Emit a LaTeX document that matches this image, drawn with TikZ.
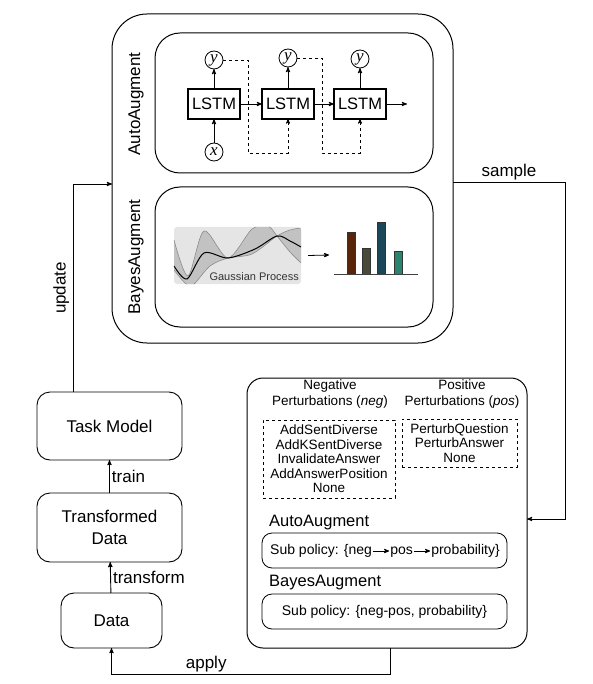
\documentclass[tikz,border=0pt]{standalone}
\usepackage{fontspec}
\setmainfont{Liberation Sans}
\newfontfamily\varfont{Liberation Serif}
\usepackage{tikz}
\usetikzlibrary{arrows,shapes,positioning}

\definecolor{barone}{RGB}{88,36,10}
\definecolor{bartwo}{RGB}{74,74,60}
\definecolor{barthree}{RGB}{26,72,88}
\definecolor{barfour}{RGB}{42,132,112}

\begin{document}
\begin{tikzpicture}[x=1pt,y=-1pt,node distance=16pt,>=stealth',auto]
    \tikzstyle{panel}=[draw,rounded corners=25pt,line width=1pt,outer sep=0pt]
    \tikzstyle{roundbox}=[draw,rounded corners=13pt,line width=0.9pt,outer sep=0pt,align=center,font=\fontsize{17}{22.5}\selectfont]
    \tikzstyle{lstm}=[draw,line width=1.1pt,outer sep=0pt,minimum width=52pt,minimum height=30pt,font=\fontsize{16.5}{18}\selectfont]
    \tikzstyle{var}=[circle,draw,line width=0.8pt,outer sep=0pt,minimum size=18pt,inner sep=0pt,font=\varfont\itshape\fontsize{17}{17}\selectfont]
    \tikzstyle{lbl}=[font=\fontsize{17}{20}\selectfont]
    \tikzstyle{perturb}=[draw,dashed,line width=0.7pt,align=center,inner sep=0pt,font=\fontsize{13.5}{14.5}\selectfont]
    \tikzstyle{subpol}=[draw,rounded corners=10pt,line width=0.8pt,outer sep=0pt,minimum width=245pt,minimum height=35pt]
    \tikzstyle{subtxt}=[inner sep=1pt,text height=10pt,text depth=3pt,font=\fontsize{14}{16}\selectfont]
    \useasboundingbox (0,0) rectangle (592,684);

    % search space
    \node[panel,rounded corners=35pt,minimum width=341pt,minimum height=329pt] (search) at (282.5,178.5) {};
    \node[panel,minimum width=278pt,minimum height=140pt] (autobox) at (294,103) {};
    \node[panel,minimum width=278pt,minimum height=140pt] (bayesbox) at (294,257) {};
    \node[lbl,rotate=90] (autoname) at (136,104) {AutoAugment};
    \node[lbl,rotate=90] (bayesname) at (136,257) {BayesAugment};

    % controller
    \node[lstm] (lstm1) at (214,104) {LSTM};
    \node[lstm] (lstm2) at (288,104) {LSTM};
    \node[lstm] (lstm3) at (360,104) {LSTM};
    \node[var] (y1) at (214,60) {y};
    \node[var] (y2) at (288,58) {y};
    \node[var] (y3) at (360,59) {y};
    \node[var] (x1) at (214,152) {x};
    \coordinate (out) at (407,104);
    \coordinate (d1) at (248,153);
    \coordinate (d2) at (322,153);
    \draw[->,line width=0.9pt] (x1) -- (lstm1);
    \draw[->,line width=0.9pt] (lstm1) -- (y1);
    \draw[->,line width=0.9pt] (lstm2) -- (y2);
    \draw[->,line width=0.9pt] (lstm3) -- (y3);
    \draw[->,line width=0.9pt] (lstm1) -- (lstm2);
    \draw[->,line width=0.9pt] (lstm2) -- (lstm3);
    \draw[->,line width=0.9pt] (lstm3) -- (out);
    \draw[->,dashed,line width=0.7pt] (y1.east) -| (d1) -| (lstm2.south);
    \draw[->,dashed,line width=0.7pt] (y2.east) -| (d2) -| (lstm3.south);

    % gaussian process
    \node[fill=black!10,rounded corners=3pt,minimum width=127pt,minimum height=57pt,inner sep=0pt] (gp) at (237.5,255.5) {};
    \begin{scope}
        \clip[rounded corners=3pt] (gp.north west) rectangle (gp.south east);
        \fill[black!24] plot[smooth] coordinates {(174,240) (188,276) (204,231) (228,258) (252,229) (268,226) (277,236) (290,252) (301,263)}
            -- plot[smooth] coordinates {(301,228) (290,230) (277,236) (252,254) (228,258) (210,266) (193,285) (185,283) (174,270)} -- cycle;
        \draw[black!45,line width=0.6pt] plot[smooth] coordinates {(174,240) (188,276) (204,231) (228,258) (252,229) (268,226) (277,236) (290,252) (301,263)};
        \draw[black!45,line width=0.6pt] plot[smooth] coordinates {(174,270) (185,283) (193,285) (210,266) (228,258) (252,254) (277,236) (290,230) (301,228)};
        \draw[line width=1pt] plot[smooth] coordinates {(174,266) (187,279) (204,253) (228,258) (255,249) (277,236) (290,241) (301,247)};
    \end{scope}
    \node[anchor=base east,inner sep=0pt,font=\fontsize{11}{12}\selectfont,black!80] (gpname) at (299,280) {Gaussian Process};
    \coordinate (chart) at (329,255);
    \draw[->,line width=0.8pt] ([xshift=7pt]gp.east) -- (chart);
    \foreach \bx/\bh/\bc in {347/232/barone,362/248/bartwo,377/222/barthree,394/251/barfour}
        \filldraw[fill=\bc,draw=black!80,line width=0.6pt] (\bx,274) rectangle (\bx+8,\bh);
    \draw[line width=1pt,black!75] (334,274) -- (418,274);

    % policy
    \node[draw,rounded corners=16pt,line width=1pt,outer sep=0pt,minimum width=280pt,minimum height=270pt] (policy) at (387,513) {};
    \node[align=center,font=\fontsize{13.5}{16.7}\selectfont] (neghead) at (330,394) {Negative\\Perturbations (\textit{neg})};
    \node[align=center,font=\fontsize{13.5}{16.7}\selectfont] (poshead) at (462,394) {Positive\\Perturbations (\textit{pos})};
    \node[perturb,minimum width=132pt,minimum height=78pt] (negbox) at (329,459) {AddSentDiverse\\AddKSentDiverse\\InvalidateAnswer\\AddAnswerPosition\\None};
    \node[perturb,minimum width=115pt,minimum height=48pt] (posbox) at (459.5,443) {PerturbQuestion\\PerturbAnswer\\None};
    \node[anchor=west,inner sep=0pt,font=\fontsize{16.5}{18}\selectfont] (autopolname) at (269,523) {AutoAugment};
    \node[subpol] (autopol) at (384.5,550.5) {};
    \node[subtxt,anchor=west] (sp1) at (269,551) {Sub policy: \{neg};
    \node[subtxt,right=of sp1] (sp2) {pos};
    \node[subtxt,right=of sp2] (sp3) {probability\}};
    \draw[->,line width=0.8pt] (sp1) -- (sp2);
    \draw[->,line width=0.8pt] (sp2) -- (sp3);
    \node[anchor=west,inner sep=0pt,font=\fontsize{16.5}{18}\selectfont] (bayespolname) at (269,583) {BayesAugment};
    \node[subpol,subtxt] (bayespol) at (384.5,611.5) {Sub policy: \{neg-pos, probability\}};

    % training loop
    \node[roundbox,minimum width=145pt,minimum height=68pt] (task) at (109.5,426) {Task Model};
    \node[roundbox,minimum width=145pt,minimum height=69pt] (tdata) at (109.5,527.5) {Transformed\\Data};
    \node[roundbox,minimum width=101pt,minimum height=55pt] (data) at (111.5,620.5) {Data};
    \coordinate (sturn) at (565,182);
    \coordinate (aturn) at (111.5,674);
    \draw[->,line width=0.9pt] (data) -- node[lbl,right,inner sep=2pt] {transform} (tdata);
    \draw[->,line width=0.9pt] (tdata) -- node[lbl,right,inner sep=2pt] {train} (task);
    \draw[->,line width=0.9pt] ([xshift=-36.5pt]task.north) |- node[lbl,pos=0.25,rotate=90,above] {update} ([yshift=-5.5pt]search.west);
    \draw[->,line width=0.9pt] ([yshift=-3.5pt]search.east) -- node[lbl,above,inner sep=2pt] {sample} (sturn) |- ([yshift=-6pt]policy.east);
    \draw[->,line width=0.9pt] ([xshift=3pt]policy.south) |- node[lbl,pos=0.83,above,inner sep=2pt] {apply} (aturn) -- (data);
\end{tikzpicture}
\end{document}
